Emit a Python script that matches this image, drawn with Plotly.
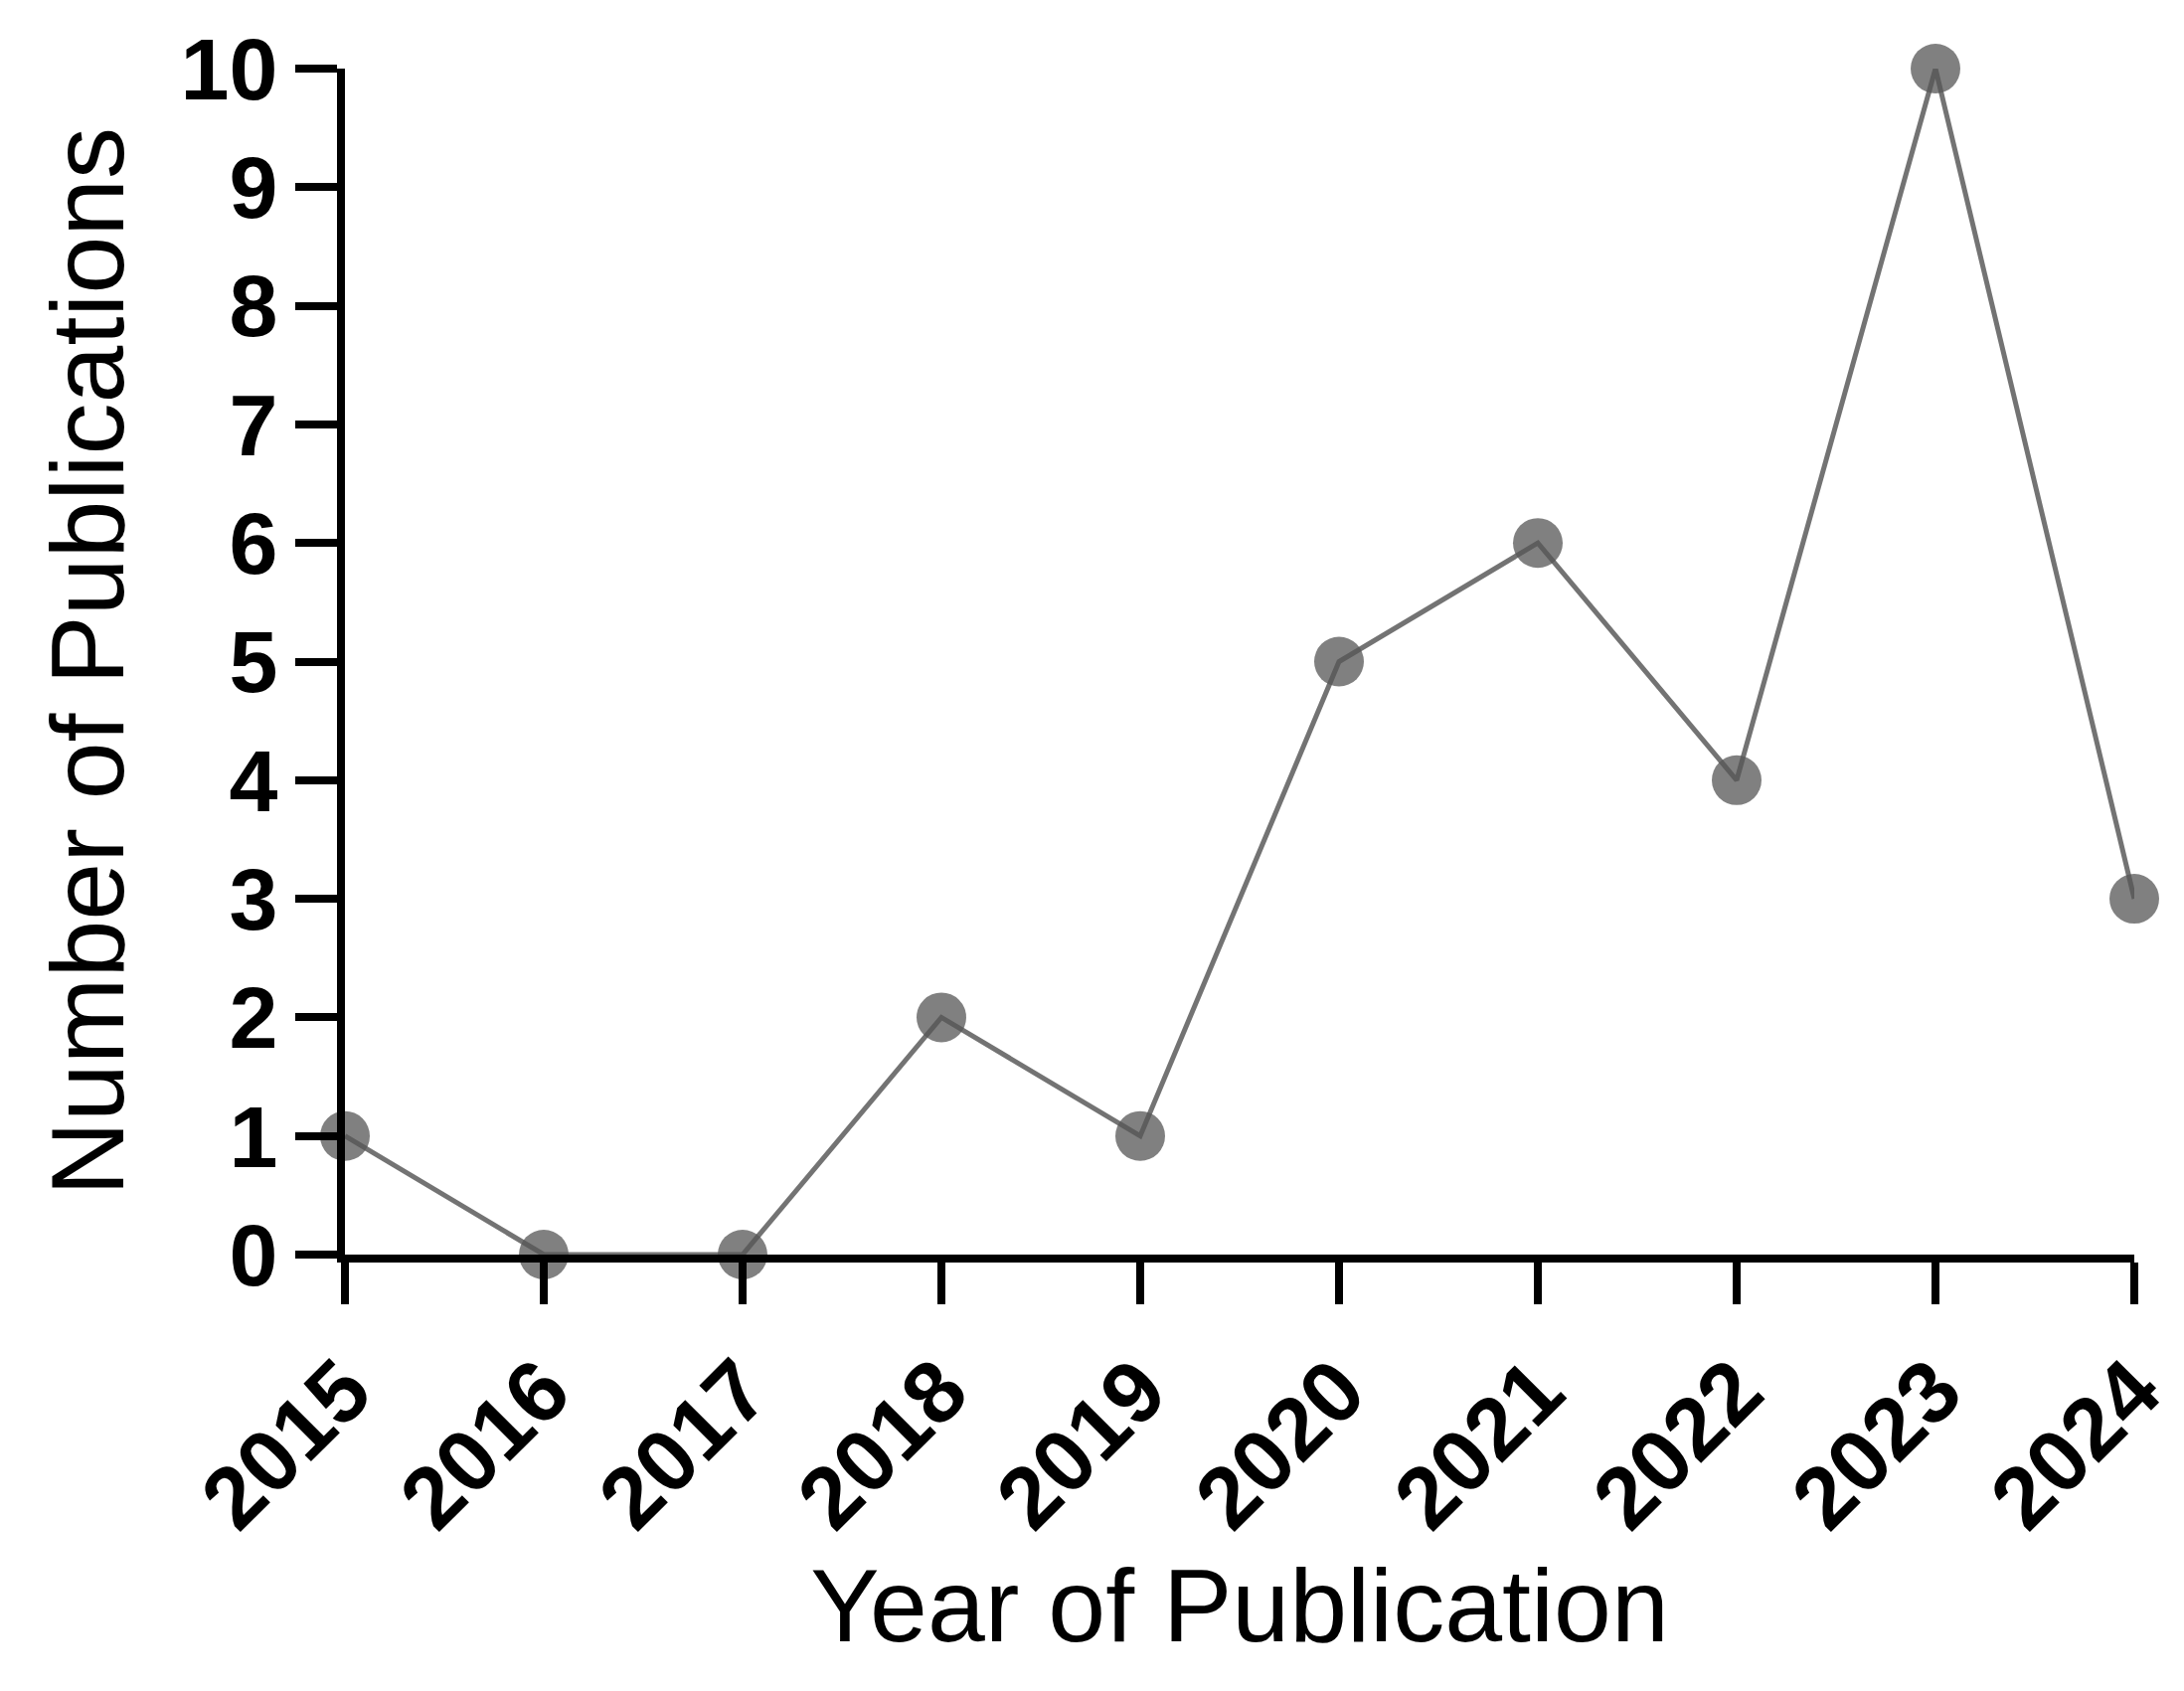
import plotly.graph_objects as go

years = [2015, 2016, 2017, 2018, 2019, 2020, 2021, 2022, 2023, 2024]
counts = [1, 0, 0, 2, 1, 5, 6, 4, 10, 3]

fig = go.Figure(go.Scatter(
    x=years, y=counts, mode="lines+markers",
    line=dict(color="rgba(100,100,100,0.9)", width=5),
    marker=dict(size=50, color="rgba(85,85,85,0.75)", line=dict(width=0)),
    cliponaxis=False,
))
fig.update_layout(
    width=2197, height=1701, plot_bgcolor="white", paper_bgcolor="white",
    margin=dict(l=339, r=58, t=57, b=447), showlegend=False,
    font=dict(family="Liberation Sans, Arial", color="black"),
)
fig.update_xaxes(range=[2015, 2024], tickvals=years, ticktext=[str(y) for y in years],
                 tickangle=-45, tickfont=dict(size=88, family="Liberation Sans", weight="bold"),
                 ticks="outside", ticklen=42, tickwidth=8, tickcolor="black",
                 showline=True, linewidth=8, linecolor="black", showgrid=False, zeroline=False,
                 title=dict(text="Year of Publication", font=dict(size=104), standoff=25))
fig.update_yaxes(range=[0, 10], tickvals=list(range(11)),
                 tickfont=dict(size=88, family="Liberation Sans", weight="bold"),
                 ticks="outside", ticklen=42, tickwidth=8, tickcolor="black",
                 showline=True, linewidth=8, linecolor="black", showgrid=False, zeroline=False,
                 title=dict(text="Number of Publications", font=dict(size=104), standoff=25))
fig.write_html("out.html")
